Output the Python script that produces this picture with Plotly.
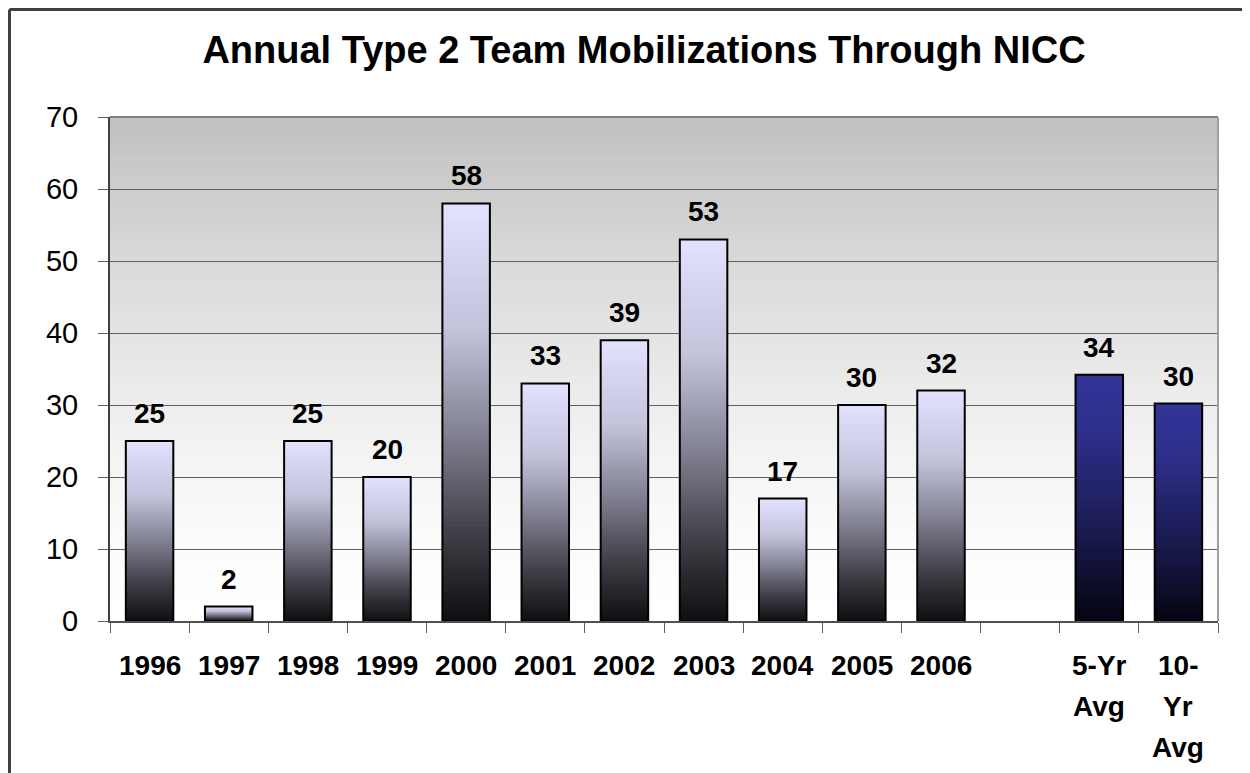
import plotly.graph_objects as go

# ---- data ----
categories = ["1996", "1997", "1998", "1999", "2000", "2001", "2002", "2003",
              "2004", "2005", "2006", " ", "5-Yr Avg", "10-Yr Avg"]
tick_labels = ["1996", "1997", "1998", "1999", "2000", "2001", "2002", "2003",
               "2004", "2005", "2006", "", "5-Yr<br>Avg", "10-<br>Yr<br>Avg"]
year_values = [25, 2, 25, 20, 58, 33, 39, 53, 17, 30, 32]
avg_values = [34.2, 30.2]
values = year_values + [None] + avg_values
value_labels = ["25", "2", "25", "20", "58", "33", "39", "53", "17", "30", "32", "", "34", "30"]
is_avg = [False] * 11 + [False] + [True, True]

title = "Annual Type 2 Team Mobilizations Through NICC"
FONT = "Liberation Sans"

# page offset compensation (browser body margin of 8px)
OFF = 8
W, H = 1250 - OFF, 773 - OFF
PL, PR, PT, PB = 110 - OFF, 1218 - OFF, 117 - OFF, 621 - OFF  # plot area in figure px
PW, PH = PR - PL, PB - PT

# ---- colour helpers ----
def interp(stops, t):
    for i in range(len(stops) - 1):
        t0, c0 = stops[i]
        t1, c1 = stops[i + 1]
        if t0 <= t <= t1:
            f = (t - t0) / (t1 - t0) if t1 > t0 else 0
            return tuple(c0[j] + (c1[j] - c0[j]) * f for j in range(3))
    return stops[-1][1]

# t = 0 at bar bottom, 1 at bar top
year_stops = [(0.0, (14, 14, 18)), (0.2, (60, 60, 68)), (0.45, (130, 130, 148)),
              (0.7, (195, 195, 220)), (1.0, (226, 226, 255))]
avg_stops = [(0.0, (3, 3, 18)), (0.08, (10, 10, 30)), (0.4, (28, 28, 85)),
             (0.75, (46, 46, 138)), (1.0, (52, 52, 152))]

def rgb(c):
    return "rgb(%d,%d,%d)" % tuple(int(round(v)) for v in c)

fig = go.Figure()

# gradient-filled bars: stacked overlapping slices derived from the values
N = 80
for k in range(N):
    frac = k / N
    t = (k + 0.5) / N
    bases, ys, cols = [], [], []
    for v, a in zip(values, is_avg):
        if v is None:
            bases.append(0); ys.append(None); cols.append("rgba(0,0,0,0)")
            continue
        bases.append(v * frac)
        ys.append(v * (1 - frac))
        cols.append(rgb(interp(avg_stops if a else year_stops, t)))
    fig.add_trace(go.Bar(x=categories, y=ys, base=bases,
                         marker=dict(color=cols, line=dict(width=0)),
                         hoverinfo="skip", showlegend=False))

# outline trace
fig.add_trace(go.Bar(x=categories, y=values,
                     marker=dict(color="rgba(0,0,0,0)", line=dict(color="black", width=2)),
                     showlegend=False))

# value labels (category index positions)
for i, (v, lab) in enumerate(zip(values, value_labels)):
    if v is None:
        continue
    fig.add_annotation(x=i, y=v, text="<b>%s</b>" % lab, showarrow=False,
                       yanchor="bottom", yshift=10,
                       font=dict(family=FONT, size=28, color="black"))

# x tick labels (multi-line, wide spacing)
for i, lab in enumerate(tick_labels):
    for j, line in enumerate(lab.split("<br>")):
        if not line:
            continue
        fig.add_annotation(x=i, y=0, yref="paper", text="<b>%s</b>" % line,
                           showarrow=False, yanchor="middle", yshift=-44 - 41 * j,
                           font=dict(family=FONT, size=28, color="black"))

# background gradient of plot area
shapes = []
M = 80
for i in range(M):
    y0 = i / M
    g = 255 - 63 * ((i + 0.5) / M) ** 1.5
    shapes.append(dict(type="rect", xref="x domain", yref="y domain", x0=0, x1=1,
                       y0=y0, y1=1, fillcolor=rgb((g, g, g)), line=dict(width=0),
                       layer="below"))
# plot area top/right border
shapes.append(dict(type="line", xref="paper", yref="paper", x0=0, x1=1, y0=1, y1=1,
                   line=dict(color="#808080", width=2)))
shapes.append(dict(type="line", xref="paper", yref="paper", x0=1, x1=1, y0=0, y1=1,
                   line=dict(color="#a0a0a0", width=2)))
# outer chart frame (top & left), as close to the page corner as the figure allows
fy = (PB - 1.5) / PH
fx = (1.5 - PL) / PW
shapes.append(dict(type="line", xref="paper", yref="paper", x0=fx, x1=1.2,
                   y0=fy, y1=fy, line=dict(color="#404040", width=3)))
shapes.append(dict(type="line", xref="paper", yref="paper", x0=fx, x1=fx,
                   y0=-0.4, y1=fy, line=dict(color="#404040", width=3)))

fig.update_layout(
    width=W, height=H,
    margin=dict(l=PL, r=W - PR, t=PT, b=H - PB, autoexpand=False),
    paper_bgcolor="white", plot_bgcolor="white",
    barmode="overlay", bargap=0.4,
    shapes=shapes,
    title=dict(text="<b>%s</b>" % title, x=(644 - OFF) / W, xref="container",
               xanchor="center", y=1 - (50 - OFF) / H, yanchor="middle",
               font=dict(family=FONT, size=38, color="black")),
    font=dict(family=FONT, color="black"),
)
fig.update_xaxes(type="category", categoryorder="array", categoryarray=categories,
                 range=[-0.5, len(categories) - 0.5],
                 showticklabels=False, ticks="outside", ticklen=10, tickcolor="#606060",
                 tickson="boundaries", showgrid=False, showline=True,
                 linecolor="#505050", linewidth=2, zeroline=False, automargin=False)
fig.update_yaxes(range=[0, 70], dtick=10, ticks="outside", ticklen=10, tickcolor="#606060",
                 showgrid=True, gridcolor="#606060", gridwidth=1,
                 showline=True, linecolor="#404040", linewidth=2, zeroline=False,
                 ticklabelstandoff=14, automargin=False,
                 tickfont=dict(family=FONT, size=29, color="black"))

fig.write_html("out.html")
